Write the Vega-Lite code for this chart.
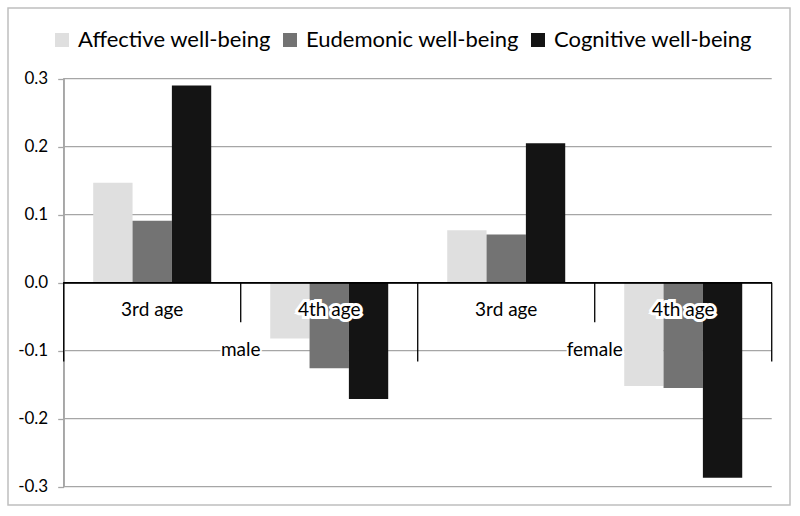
{
  "$schema": "https://vega.github.io/schema/vega-lite/v6.json",
  "width": 782,
  "height": 497,
  "autosize": {"type": "none"},
  "padding": {"left": 8, "top": 8, "right": 10, "bottom": 11},
  "background": "white",
  "config": {"view": {"stroke": "#bfbfbf", "strokeWidth": 1.5}, "font": "Lato", "text": {"font": "Lato"}},
  "datasets": {
    "bars": [
      {"group": "male, 3rd age", "sex": "male", "age": "3rd age", "measure": "Affective well-being", "value": 0.147},
      {"group": "male, 3rd age", "sex": "male", "age": "3rd age", "measure": "Eudemonic well-being", "value": 0.091},
      {"group": "male, 3rd age", "sex": "male", "age": "3rd age", "measure": "Cognitive well-being", "value": 0.290},
      {"group": "male, 4th age", "sex": "male", "age": "4th age", "measure": "Affective well-being", "value": -0.082},
      {"group": "male, 4th age", "sex": "male", "age": "4th age", "measure": "Eudemonic well-being", "value": -0.126},
      {"group": "male, 4th age", "sex": "male", "age": "4th age", "measure": "Cognitive well-being", "value": -0.171},
      {"group": "female, 3rd age", "sex": "female", "age": "3rd age", "measure": "Affective well-being", "value": 0.077},
      {"group": "female, 3rd age", "sex": "female", "age": "3rd age", "measure": "Eudemonic well-being", "value": 0.071},
      {"group": "female, 3rd age", "sex": "female", "age": "3rd age", "measure": "Cognitive well-being", "value": 0.205},
      {"group": "female, 4th age", "sex": "female", "age": "4th age", "measure": "Affective well-being", "value": -0.152},
      {"group": "female, 4th age", "sex": "female", "age": "4th age", "measure": "Eudemonic well-being", "value": -0.155},
      {"group": "female, 4th age", "sex": "female", "age": "4th age", "measure": "Cognitive well-being", "value": -0.287}
    ],
    "groups": [
      {"group": "male, 3rd age", "sex": "male", "age": "3rd age"},
      {"group": "male, 4th age", "sex": "male", "age": "4th age"},
      {"group": "female, 3rd age", "sex": "female", "age": "3rd age"},
      {"group": "female, 4th age", "sex": "female", "age": "4th age"}
    ],
    "grid": [{"v": 0.3}, {"v": 0.2}, {"v": 0.1}, {"v": -0.1}, {"v": -0.2}, {"v": -0.3}]
  },
  "encoding": {
    "x": {
      "type": "nominal",
      "scale": {"domain": ["male, 3rd age", "male, 4th age", "female, 3rd age", "female, 4th age"], "paddingInner": 0, "paddingOuter": 0.209, "align": 0.753},
      "axis": null
    }
  },
  "layer": [
    {
      "data": {"name": "grid"},
      "mark": {"type": "rule", "color": "#a6a6a6", "strokeWidth": 1.3},
      "encoding": {
        "y": {
          "field": "v", "type": "quantitative",
          "scale": {"domain": [-0.32693, 0.40397], "nice": false, "zero": false},
          "axis": {"values": [-0.3, -0.2, -0.1, 0, 0.1, 0.2, 0.3], "labelExpr": "replace(format(datum.value, '.1f'), '\u2212', '-')", "offset": -55.7, "grid": false, "domain": false, "ticks": true, "tickColor": "#a6a6a6", "tickSize": 6, "tickWidth": 1.3, "labelFontSize": 17, "labelColor": "#000000", "labelPadding": 10, "title": null, "labelFont": "Lato"}
        },
        "x": {"datum": "male, 3rd age", "type": "nominal", "bandPosition": 0},
        "x2": {"datum": "female, 4th age", "bandPosition": 1}
      }
    },
    {
      "data": {"name": "grid"},
      "mark": {"type": "rule", "color": "#a6a6a6", "strokeWidth": 1.3},
      "encoding": {
        "x": {"datum": "male, 3rd age", "type": "nominal", "bandPosition": 0},
        "y": {"datum": 0.3, "type": "quantitative"},
        "y2": {"datum": -0.3}
      }
    },
    {
      "data": {"name": "bars"},
      "mark": {"type": "bar"},
      "encoding": {
        "x": {"field": "group", "type": "nominal"},
        "xOffset": {"field": "measure", "type": "nominal", "scale": {"domain": ["Affective well-being", "Eudemonic well-being", "Cognitive well-being"], "paddingInner": 0, "paddingOuter": 0.75}},
        "y": {"field": "value", "type": "quantitative"},
        "color": {
          "field": "measure", "type": "nominal",
          "scale": {"domain": ["Affective well-being", "Eudemonic well-being", "Cognitive well-being"], "range": ["#dfdfdf", "#737373", "#141414"]},
          "legend": {"orient": "none", "legendX": 43, "legendY": 21, "direction": "horizontal", "title": null, "symbolType": "square", "symbolSize": 196, "symbolStrokeWidth": 0, "symbolOpacity": 1, "labelFontSize": 22, "labelFont": "Lato", "labelColor": "#000000", "labelOffset": 5, "columnPadding": 8, "labelLimit": 400}
        }
      }
    },
    {
      "data": {"name": "grid"},
      "mark": {"type": "rule", "color": "#000000", "strokeWidth": 1.3},
      "encoding": {
        "y": {"datum": 0, "type": "quantitative"},
        "x": {"datum": "male, 3rd age", "type": "nominal", "bandPosition": 0},
        "x2": {"datum": "female, 4th age", "bandPosition": 1}
      }
    },
    {
      "data": {"name": "groups"},
      "transform": [{"filter": "datum.age === '4th age'"}],
      "mark": {"type": "rule", "color": "#000000", "strokeWidth": 1.3},
      "encoding": {
        "x": {"field": "group", "type": "nominal", "bandPosition": 0},
        "y": {"datum": 0, "type": "quantitative"},
        "y2": {"datum": -0.058}
      }
    },
    {
      "data": {"name": "groups"},
      "transform": [{"filter": "datum.age === '3rd age'"}],
      "mark": {"type": "rule", "color": "#000000", "strokeWidth": 1.3},
      "encoding": {
        "x": {"field": "group", "type": "nominal", "bandPosition": 0},
        "y": {"datum": 0, "type": "quantitative"},
        "y2": {"datum": -0.116}
      }
    },
    {
      "data": {"name": "groups"},
      "transform": [{"filter": "datum.group === 'female, 4th age'"}],
      "mark": {"type": "rule", "color": "#000000", "strokeWidth": 1.3},
      "encoding": {
        "x": {"field": "group", "type": "nominal", "bandPosition": 1},
        "y": {"datum": 0, "type": "quantitative"},
        "y2": {"datum": -0.116}
      }
    },
    {
      "data": {"name": "groups"},
      "mark": {"type": "text", "fontSize": 19, "font": "Lato", "fill": "white", "stroke": "white", "strokeWidth": 6, "strokeJoin": "miter", "baseline": "middle"},
      "encoding": {
        "x": {"field": "group", "type": "nominal"},
        "y": {"datum": -0.040, "type": "quantitative"},
        "text": {"field": "age"}
      }
    },
    {
      "data": {"name": "groups"},
      "mark": {"type": "text", "fontSize": 19, "font": "Lato", "color": "#000000", "baseline": "middle"},
      "encoding": {
        "x": {"field": "group", "type": "nominal"},
        "y": {"datum": -0.040, "type": "quantitative"},
        "text": {"field": "age"}
      }
    },
    {
      "data": {"name": "groups"},
      "transform": [{"filter": "datum.age === '4th age'"}],
      "mark": {"type": "text", "fontSize": 19, "font": "Lato", "fill": "white", "stroke": "white", "strokeWidth": 4, "strokeJoin": "miter", "baseline": "middle"},
      "encoding": {
        "x": {"field": "group", "type": "nominal", "bandPosition": 0},
        "y": {"datum": -0.099, "type": "quantitative"},
        "text": {"field": "sex"}
      }
    },
    {
      "data": {"name": "groups"},
      "transform": [{"filter": "datum.age === '4th age'"}],
      "mark": {"type": "text", "fontSize": 19, "font": "Lato", "color": "#000000", "baseline": "middle"},
      "encoding": {
        "x": {"field": "group", "type": "nominal", "bandPosition": 0},
        "y": {"datum": -0.099, "type": "quantitative"},
        "text": {"field": "sex"}
      }
    }
  ]
}
